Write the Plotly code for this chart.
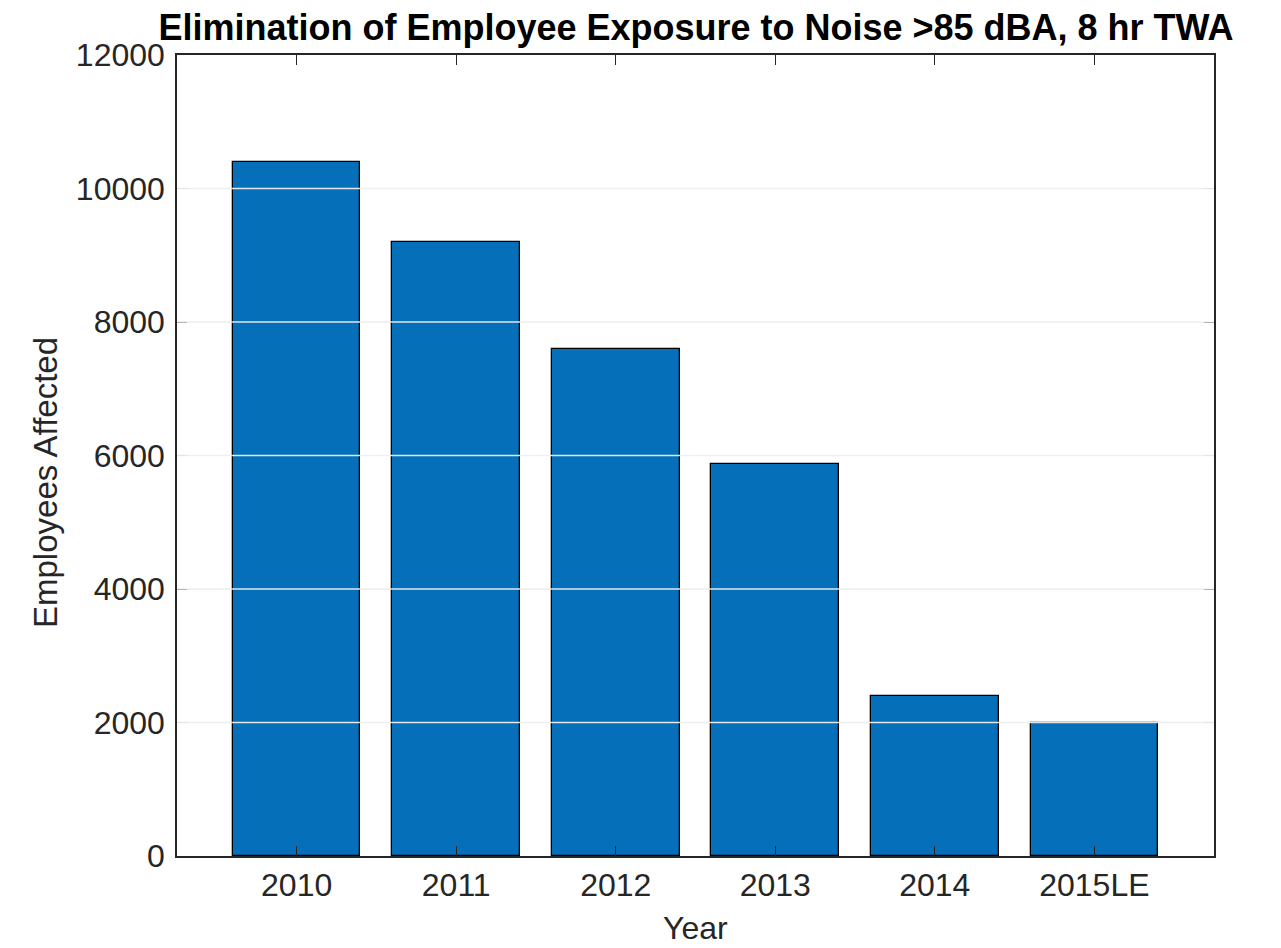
import plotly.graph_objects as go

years = ["2010", "2011", "2012", "2013", "2014", "2015LE"]
employees = [10400, 9200, 7600, 5870, 2400, 2000]
y_ticks = [0, 2000, 4000, 6000, 8000, 10000, 12000]

# page body has an 8px margin, so the figure is sized/offset to compensate
W, H = 1265, 932
L, R, T, B = 169, 59, 47, 84
PW, PH = W - L - R, H - T - B
FONT = "Liberation Sans, Arial, Helvetica, sans-serif"
TXT = "#262626"

xpos = list(range(1, len(years) + 1))

fig = go.Figure()
fig.add_trace(go.Bar(
    x=xpos, y=employees, width=0.8,
    marker=dict(color="#066fba", line=dict(color="black", width=1.3)),
    showlegend=False,
))

# white grid lines drawn on top of the bars (MATLAB 'Layer','top' look)
for v in y_ticks[1:-1]:
    fig.add_shape(type="line", xref="paper", yref="y", x0=0, x1=1, y0=v, y1=v,
                  line=dict(color="rgba(238,238,238,0.95)", width=1.6), layer="above")

fig.update_layout(
    width=W, height=H,
    margin=dict(l=L, r=R, t=T, b=B),
    paper_bgcolor="white", plot_bgcolor="white",
    font=dict(family=FONT, color=TXT, size=32),
    bargap=0,
    title=dict(text="<b>Elimination of Employee Exposure to Noise >85 dBA, 8 hr TWA</b>",
               font=dict(family=FONT, size=36, color="black"),
               x=688 / W, xref="container", xanchor="center",
               y=1 - 19 / H, yref="container", yanchor="middle"),
    xaxis=dict(range=[0.25, len(years) + 0.75], tickmode="array", tickvals=xpos,
               ticktext=years, ticks="inside", ticklen=10, tickwidth=1.3,
               tickcolor=TXT, showline=True, linecolor=TXT, linewidth=1.5,
               mirror="ticks", showgrid=False, zeroline=False,
               tickfont=dict(size=32, color=TXT)),
    yaxis=dict(range=[0, 12000], tickmode="array", tickvals=y_ticks,
               ticktext=[str(v) for v in y_ticks], ticks="inside", ticklen=10,
               tickwidth=1.3, tickcolor=TXT, showline=True, linecolor=TXT,
               linewidth=1.5, mirror="ticks", showgrid=True,
               gridcolor="rgba(0,0,0,0.05)", zeroline=False,
               ticklabelstandoff=4,
               tickfont=dict(size=32, color=TXT)),
    annotations=[
        dict(text="Year", xref="paper", yref="paper", x=0.5, y=-72 / PH,
             xanchor="center", yanchor="middle", showarrow=False,
             font=dict(size=32, color=TXT)),
        dict(text="Employees Affected", xref="paper", yref="paper",
             x=-(L - 37) / PW, y=1 - (475 - T) / PH,
             xanchor="center", yanchor="middle", textangle=-90, showarrow=False,
             font=dict(size=33, color=TXT)),
    ],
)

fig.write_html("out.html")
